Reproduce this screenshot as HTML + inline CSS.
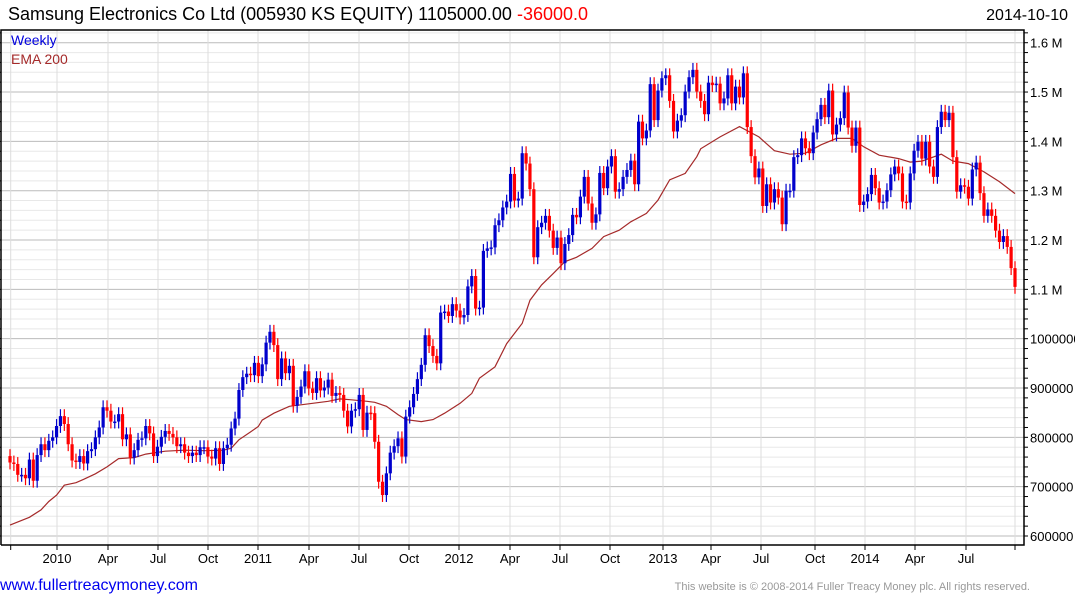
<!DOCTYPE html>
<html><head><meta charset="utf-8"><style>
body{margin:0;background:#fff;width:1075px;height:600px;overflow:hidden;font-family:"Liberation Sans",Arial,sans-serif}
svg text{font-family:"Liberation Sans",Arial,sans-serif}
</style></head><body>
<svg id="c" width="1075" height="600" xmlns="http://www.w3.org/2000/svg">
<text x="8" y="20" font-size="18" fill="#000">Samsung Electronics Co Ltd (005930 KS EQUITY) 1105000.00 <tspan fill="#ff0000">-36000.0</tspan></text>
<text x="1068" y="20" font-size="16" fill="#000" text-anchor="end">2014-10-10</text>
<g id="grid"></g>
<g id="ema"></g>
<g id="candles"></g>
<g id="axes"></g>
<text x="11" y="45" font-size="14" fill="#0000dd">Weekly</text>
<text x="11" y="64" font-size="14" fill="#a52a2a">EMA 200</text>
<text x="0" y="590" font-size="16" fill="#0000ee">www.fullertreacymoney.com</text>
<text x="1030" y="590" font-size="11" fill="#999" text-anchor="end">This website is © 2008-2014 Fuller Treacy Money plc. All rights reserved.</text>
</svg>
<script>
// weekly closes (thousands KRW), Oct 2009 - Oct 10 2014
const closes=[749,746,724,724,717,755,712,764,786,774,793,800,823,843,827,786,753,750,762,747,772,776,800,820,861,854,832,832,847,796,806,759,774,795,798,823,808,762,781,801,813,807,800,782,786,769,762,769,764,780,780,761,757,778,746,778,785,818,838,896,922,929,926,951,924,948,992,1014,987,918,960,930,945,864,882,903,934,899,890,920,895,901,917,884,890,886,854,822,854,857,886,815,850,849,791,710,683,727,769,782,798,761,842,861,888,918,947,1007,985,965,950,1053,1055,1046,1070,1057,1043,1048,1106,1127,1061,1063,1178,1183,1185,1230,1240,1266,1278,1334,1280,1284,1376,1355,1303,1165,1226,1235,1249,1219,1184,1205,1153,1192,1210,1251,1246,1288,1328,1274,1235,1252,1336,1305,1349,1370,1298,1303,1328,1342,1361,1313,1440,1406,1422,1516,1443,1503,1528,1534,1482,1420,1442,1453,1501,1530,1545,1501,1482,1455,1519,1514,1517,1477,1487,1534,1477,1511,1489,1538,1429,1370,1327,1345,1269,1313,1276,1303,1286,1232,1300,1300,1368,1372,1406,1386,1376,1418,1445,1474,1449,1503,1414,1434,1447,1499,1428,1391,1428,1271,1278,1293,1332,1305,1276,1278,1301,1333,1349,1335,1278,1276,1335,1381,1399,1365,1399,1349,1328,1429,1460,1443,1458,1368,1298,1311,1308,1284,1343,1357,1295,1249,1262,1249,1219,1196,1208,1186,1143,1105];
const firstOpen=762;
// EMA 200 samples: week index and value (thousands)
const emaWeeks=[0,5,8,10,12,14,17,19,22,25,28,32,35,40,45,50,55,57,59,62,64,65,68,72,75,82,85,88,92,94,97,100,102,106,109,112,116,119,121,125,128,132,134,137,140,143,146,150,153,157,160,164,167,170,174,177,178,183,188,193,197,201,205,209,213,217,220,224,229,232,235,240,243,247,251,255,259];
const emaVals=[622,638,653,670,683,703,708,715,726,740,757,759,766,772,774,773,774,778,795,811,822,835,849,863,866,873,878,876,873,871,863,846,836,832,836,849,869,889,920,943,990,1031,1078,1109,1132,1156,1165,1183,1207,1220,1237,1254,1281,1322,1335,1369,1385,1409,1430,1409,1381,1374,1376,1393,1406,1406,1389,1372,1365,1358,1360,1374,1360,1355,1338,1318,1294];
const yTicks=[600,700,800,900,1000,1100,1200,1300,1400,1500,1600];
const yTickLabels=["600000","700000","800000","900000","1000000","1.1 M","1.2 M","1.3 M","1.4 M","1.5 M","1.6 M"];
const xTickLabels=["","2010","Apr","Jul","Oct","2011","Apr","Jul","Oct","2012","Apr","Jul","Oct","2013","Apr","Jul","Oct","2014","Apr","Jul",""];
const xTickPos=[10.7,57,108,158,208,258,309,359,409,459,510,560,610,663,711,761,815,865,915,966,1015];
const wick=14;

const NS="http://www.w3.org/2000/svg";
const L=1,R=1024,T=30,B=545;
function y(v){return 536-(v-600)*0.4933;}
function x(i){return 10+i*(1015-10)/(closes.length-1);}
function mk(tag,attrs,parent){const e=document.createElementNS(NS,tag);for(const k in attrs)e.setAttribute(k,attrs[k]);parent.appendChild(e);return e;}
const grid=document.getElementById('grid'),axes=document.getElementById('axes'),cg=document.getElementById('candles'),eg=document.getElementById('ema');
for(let v=600;v<=1620;v+=20){
  const g=mk('line',{x1:L,x2:R,y1:y(v),y2:y(v),stroke:(v%100===0)?'#bbbbbb':'#e8e8e8','stroke-width':1},grid);
  
  
  const t=mk('line',{x1:R,x2:R+4,y1:y(v),y2:y(v),stroke:'#000'},axes);
  
  
  const t2=mk('line',{x1:L-4,x2:L,y1:y(v),y2:y(v),stroke:'#000'},axes);
  
  
}
xTickPos.forEach((px,k)=>{
  const g=mk('line',{x1:px,x2:px,y1:T,y2:B,stroke:'#dddddd'},grid);
  
  
  const t=mk('line',{x1:px,x2:px,y1:B,y2:B+5,stroke:'#000'},axes);
  
  
  if(xTickLabels[k]){
    const tx=mk('text',{x:px,y:563,'font-size':13,'text-anchor':'middle',fill:'#000'},axes);
    tx.textContent=xTickLabels[k];
    
    
  }
});
yTicks.forEach((v,k)=>{
  const tx=mk('text',{x:R+6,y:y(v)+5,'font-size':13,fill:'#000'},axes);
  tx.textContent=yTickLabels[k];
  
  
});
const fr=mk('path',{d:`M${L},${B}V${T}H${R}V${B}H${L}`,fill:'none',stroke:'#000','stroke-width':1.5},axes);


let d='';
emaWeeks.forEach((w,k)=>{d+=(k?'L':'M')+x(w).toFixed(1)+','+y(emaVals[k]).toFixed(1);});
const ep=mk('path',{d:d,fill:'none',stroke:'#a52a2a','stroke-width':1.2},eg);


closes.forEach((c,i)=>{
  const o=i?closes[i-1]:firstOpen;
  const col=c>=o?'#0000cc':'#ff0000';
  const hi=Math.max(o,c)+wick,lo=Math.min(o,c)-wick;
  const cx=x(i);
  const w=mk('line',{x1:cx,x2:cx,y1:y(hi),y2:y(lo),stroke:col,'stroke-width':1.2},cg);
  
  
  const top=y(Math.max(o,c)),h=Math.max(1.5,y(Math.min(o,c))-top);
  const r=mk('rect',{x:cx-1.6,y:top,width:3.2,height:h,fill:col},cg);
  
  
});
</script>
</body></html>
